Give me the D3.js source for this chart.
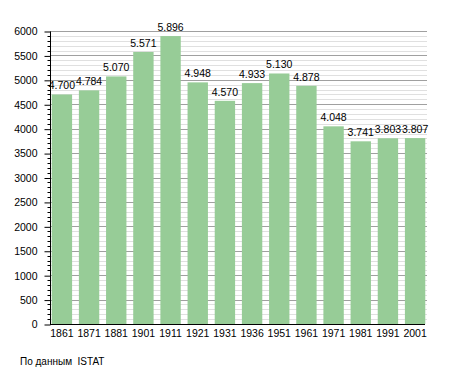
<!DOCTYPE html>
<html>
<head>
<meta charset="utf-8">
<script src="https://cdn.jsdelivr.net/npm/d3@7"></script>
<style>
  body { margin: 0; background: #fff; }
  text { font-family: "Liberation Sans", Arial, sans-serif; }
</style>
</head>
<body>
<div id="chart"></div>
<script>
// data
const years = ["1861", "1871", "1881", "1901", "1911", "1921", "1931", "1936", "1951", "1961", "1971", "1981", "1991", "2001"];
const population = [4700, 4784, 5070, 5571, 5896, 4948, 4570, 4933, 5130, 4878, 4048, 3741, 3803, 3807];
const majorTicks = [0, 500, 1000, 1500, 2000, 2500, 3000, 3500, 4000, 4500, 5000, 5500, 6000];
const sourceNote = "По данным  ISTAT";

// layout
const width = 455, height = 373;
const plotLeft = 50, plotRight = 427, plotTop = 31, plotBottom = 324;

const svg = d3.select("#chart")
  .append("svg")
  .attr("width", width)
  .attr("height", height);

// scales
const scaleX = d3.scaleBand()
  .domain(years)
  .range([plotLeft - 1, plotRight + 1])
  .paddingInner(0.25)
  .paddingOuter(0.1);
const scaleY = d3.scaleLinear()
  .domain([0, 6000])
  .range([plotBottom, plotTop]);

const minorTicks = d3.range(0, 6001, 100).filter(v => v % 500 !== 0);
const fmt = d3.formatLocale({ decimal: ",", thousands: ".", grouping: [3], currency: ["", ""] }).format(",");

// grid
svg.append("g")
  .selectAll("line")
  .data(minorTicks)
  .join("line")
  .attr("x1", plotLeft).attr("x2", plotRight)
  .attr("y1", d => Math.round(scaleY(d)) + 0.5)
  .attr("y2", d => Math.round(scaleY(d)) + 0.5)
  .attr("stroke", "#e0e0e0");
svg.append("g")
  .selectAll("line")
  .data(majorTicks.filter(d => d > 0))
  .join("line")
  .attr("x1", plotLeft).attr("x2", plotRight)
  .attr("y1", d => Math.round(scaleY(d)) + 0.5)
  .attr("y2", d => Math.round(scaleY(d)) + 0.5)
  .attr("stroke", "#a0a0a0");

// bars
const rows = years.map((y, i) => ({ year: y, value: population[i] }));
svg.append("g")
  .selectAll("rect")
  .data(rows)
  .join("rect")
  .attr("x", d => scaleX(d.year))
  .attr("y", d => scaleY(d.value))
  .attr("width", scaleX.bandwidth())
  .attr("height", d => plotBottom - scaleY(d.value))
  .attr("fill", "#97cc97");

// value labels
svg.append("g")
  .selectAll("text")
  .data(rows)
  .join("text")
  .attr("x", d => scaleX(d.year) + scaleX.bandwidth() / 2)
  .attr("y", d => scaleY(d.value) - 5)
  .attr("text-anchor", "middle")
  .attr("font-size", 10.5)
  .attr("fill", "#000")
  .text(d => fmt(d.value));

// y axis
const axisY = svg.append("g")
  .attr("transform", `translate(${plotLeft + 0.5}, 0.5)`);
axisY.call(d3.axisLeft(scaleY).tickValues(majorTicks).tickSize(6).tickFormat(d3.format("d")))
  .call(g => g.selectAll("text").attr("font-size", 10.5).attr("fill", "#000").attr("x", -13))
  .call(g => g.select(".domain").attr("d", `M0,${plotTop}V${plotBottom}`));
axisY.selectAll(".minor")
  .data(minorTicks)
  .join("line")
  .attr("class", "minor")
  .attr("x1", -3).attr("x2", 0)
  .attr("y1", d => Math.round(scaleY(d)))
  .attr("y2", d => Math.round(scaleY(d)))
  .attr("stroke", "#000");

// x axis
svg.append("g")
  .attr("transform", `translate(0, ${plotBottom + 0.5})`)
  .call(d3.axisBottom(scaleX).tickSize(0).tickPadding(5))
  .call(g => g.select(".domain").attr("d", `M${plotLeft},0H${plotRight - 2}`))
  .call(g => g.selectAll("text").attr("font-size", 10.5).attr("fill", "#000"));

// source note
svg.append("text")
  .attr("x", 20)
  .attr("y", 365)
  .attr("font-size", 10)
  .attr("fill", "#000")
  .style("white-space", "pre")
  .text(sourceNote);
</script>
</body>
</html>
